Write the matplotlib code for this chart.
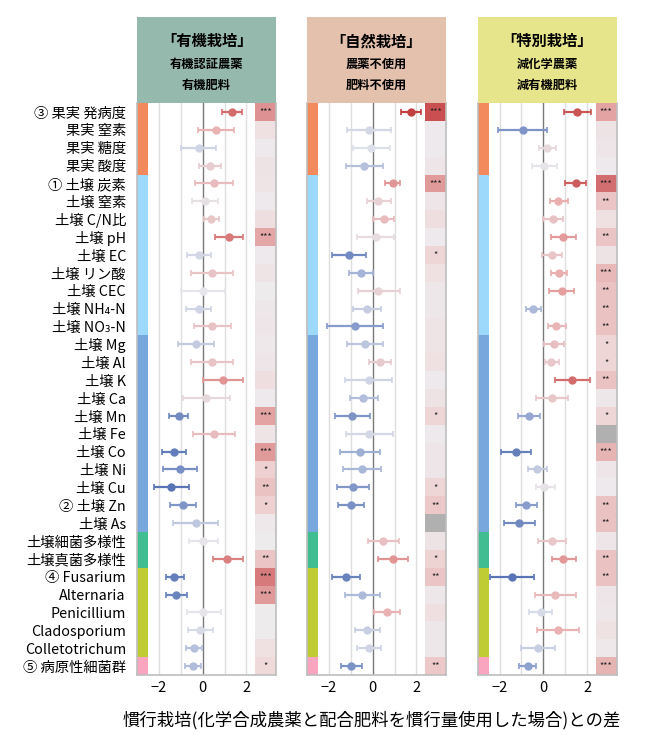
import numpy as np
import matplotlib
matplotlib.use("Agg")
import matplotlib.pyplot as plt
from matplotlib.colors import LinearSegmentedColormap, Normalize
from matplotlib.patches import Rectangle

plt.rcParams['font.family'] = ['Noto Sans CJK JP', 'DejaVu Sans']

# ---------------------------------------------
# data
# ---------------------------------------------

row_labels = [
    "③ 果実 発病度", "果実 窒素", "果実 糖度", "果実 酸度",
    "① 土壌 炭素", "土壌 窒素", "土壌 C/N比", "土壌 pH", "土壌 EC",
    "土壌 リン酸", "土壌 CEC", "土壌 NH₄-N", "土壌 NO₃-N",
    "土壌 Mg", "土壌 Al", "土壌 K", "土壌 Ca", "土壌 Mn", "土壌 Fe",
    "土壌 Co", "土壌 Ni", "土壌 Cu", "② 土壌 Zn", "土壌 As",
    "土壌細菌多様性", "土壌真菌多様性",
    "④ Fusarium", "Alternaria", "Penicillium", "Cladosporium",
    "Colletotrichum", "⑤ 病原性細菌群",
]

group_sizes = [4, 9, 11, 2, 5, 1]
group_colors = ["#f28a5e", "#9dd9fa", "#77a7dc", "#40bd91", "#c0cc33", "#f9a5c0"]

panel_titles = ["「有機栽培」", "「自然栽培」", "「特別栽培」"]
panel_sub1 = ["有機認証農薬", "農薬不使用", "減化学農薬"]
panel_sub2 = ["有機肥料", "肥料不使用", "減有機肥料"]
panel_colors = ["#96b9ae", "#e3c1ad", "#e7e58b"]

# panel 1: 有機栽培
est1 = [1.33, 0.63, -0.18, 0.32, 0.52, 0.09, 0.38, 1.20, -0.15, 0.41, 0.00, -0.18, 0.44,
        -0.29, 0.41, 0.95, 0.17, -1.10, 0.52, -1.31, -1.04, -1.44, -0.92, -0.32,
        0.02, 1.13, -1.30, -1.20, 0.03, -0.12, -0.40, -0.44]
lo1 = [0.89, -0.20, -1.00, -0.17, -0.34, -0.49, 0.05, 0.58, -0.72, -0.53, -1.00, -0.75, -0.40,
       -1.11, -0.53, 0.00, -0.90, -1.53, -0.43, -1.85, -1.83, -2.21, -1.51, -1.34,
       -0.61, 0.46, -1.68, -1.68, -0.72, -0.67, -0.75, -0.81]
hi1 = [1.80, 1.44, 0.63, 0.84, 1.40, 0.70, 0.76, 1.85, 0.40, 1.39, 1.04, 0.38, 1.28,
       0.52, 1.39, 1.85, 1.24, -0.69, 1.47, -0.76, -0.24, -0.63, -0.31, 0.69,
       0.70, 1.85, -0.85, -0.73, 0.84, 0.47, -0.03, -0.09]
heat1 = [4.0, 1.0, 0.3, 0.8, 0.7, 0.3, 1.2, 3.5, 0.3, 0.7, 0.2, 0.5, 0.6,
         0.4, 0.6, 1.2, 0.3, 3.6, 0.7, 3.8, 2.0, 2.5, 2.0, 0.4,
         0.2, 2.4, 4.5, 3.8, 0.2, 0.2, 1.0, 1.6]
star1 = ["***", "", "", "", "", "", "", "***", "", "", "", "", "",
         "", "", "", "", "***", "", "***", "*", "**", "*", "",
         "", "**", "***", "***", "", "", "", "*"]

# panel 2: 自然栽培
est2 = [1.76, -0.15, -0.08, -0.40, 0.92, 0.26, 0.52, 0.14, -1.10, -0.53, 0.26, -0.26, -0.81,
        -0.34, 0.34, -0.18, -0.43, -0.93, -0.15, -0.58, -0.49, -0.90, -0.99, np.nan,
        0.47, 0.95, -1.22, -0.47, 0.64, -0.24, -0.17, -0.98]
lo2 = [1.30, -1.15, -0.90, -1.24, 0.58, -0.26, 0.03, -0.73, -1.88, -1.08, -0.69, -0.89, -2.09,
       -1.15, -0.15, -1.27, -1.02, -1.73, -1.22, -1.48, -1.36, -1.63, -1.59, np.nan,
       -0.21, 0.24, -1.88, -1.27, 0.05, -0.81, -0.73, -1.45]
hi2 = [2.20, 0.85, 0.78, 0.46, 1.27, 0.82, 0.99, 0.99, -0.32, 0.02, 1.24, 0.37, 0.47,
       0.47, 0.82, 0.87, 0.23, -0.14, 0.95, 0.32, 0.38, -0.15, -0.41, np.nan,
       1.19, 1.62, -0.56, 0.32, 1.24, 0.32, 0.40, -0.47]
heat2 = [5.5, 0.3, 0.3, 0.6, 3.8, 0.6, 1.2, 0.3, 1.8, 1.0, 0.5, 0.5, 0.7,
         0.7, 1.0, 0.3, 0.8, 1.8, 0.3, 0.6, 0.6, 1.8, 2.3, np.nan,
         0.8, 1.9, 2.4, 0.5, 1.1, 0.5, 0.5, 2.3]
star2 = ["***", "", "", "", "***", "", "", "", "*", "", "", "", "",
         "", "", "", "", "*", "", "", "", "*", "**", "",
         "", "*", "**", "", "", "", "", "**"]

# panel 3: 特別栽培
est3 = [1.56, -0.93, 0.17, 0.03, 1.47, 0.69, 0.43, 0.89, 0.40, 0.70, 0.84, -0.47, 0.60,
        0.47, 0.37, 1.33, 0.38, -0.66, np.nan, -1.26, -0.29, 0.05, -0.80, -1.12,
        0.38, 0.90, -1.44, 0.55, -0.12, 0.66, -0.25, -0.72]
lo3 = [0.96, -2.05, -0.20, -0.52, 1.00, 0.29, -0.02, 0.34, -0.06, 0.35, 0.28, -0.81, 0.21,
       0.05, 0.06, 0.55, -0.34, -1.16, np.nan, -1.93, -0.72, -0.35, -1.26, -1.81,
       -0.26, 0.38, -2.43, -0.38, -0.66, -0.30, -1.03, -1.09]
hi3 = [2.17, 0.15, 0.58, 0.64, 1.96, 1.12, 0.89, 1.47, 0.86, 1.06, 1.42, -0.12, 1.03,
       0.93, 0.72, 2.14, 1.13, -0.14, np.nan, -0.58, 0.17, 0.52, -0.29, -0.40,
       1.03, 1.47, -0.44, 1.49, 0.38, 1.64, 0.55, -0.34]
heat3 = [3.6, 0.8, 0.6, 0.3, 4.8, 2.4, 1.0, 2.4, 0.8, 2.9, 2.5, 2.5, 2.5,
         1.8, 1.8, 2.5, 0.5, 1.8, np.nan, 3.0, 0.6, 0.3, 2.5, 2.5,
         0.6, 2.5, 2.5, 0.6, 0.5, 0.9, 0.4, 3.0]
star3 = ["***", "", "", "", "***", "**", "", "**", "", "***", "**", "**", "**",
         "*", "*", "**", "", "*", "", "***", "", "", "**", "**",
         "", "**", "**", "", "", "", "", "***"]

panels = [
    (est1, lo1, hi1, heat1, star1),
    (est2, lo2, hi2, heat2, star2),
    (est3, lo3, hi3, heat3, star3),
]

# ---------------------------------------------
# colours
# ---------------------------------------------

point_cmap = LinearSegmentedColormap.from_list(
    "pt", [(0, "#3f5fa8"), (0.3, "#8ea2cf"), (0.5, "#e6e6ec"), (0.7, "#e9acac"), (1, "#c23b3b")])
point_norm = Normalize(-1.8, 1.8)

heat_cmap = LinearSegmentedColormap.from_list(
    "ht", [(0, "#eeedf0"), (0.3, "#efd6d6"), (0.6, "#e3a3a3"), (1, "#c3393c")])
heat_norm = Normalize(0, 6)

# ---------------------------------------------
# figure
# ---------------------------------------------

fig = plt.figure(figsize=(6.5, 7.48), dpi=100)

panel_left = [0.2108, 0.4723, 0.7349]
panel_w = 0.2138
ax_bottom = 1 - 675 / 748
ax_top = 1 - 103 / 748
head_top = 1 - 17 / 748

n = len(row_labels)
y = np.arange(n)

for k, (est, lo, hi, heat, star) in enumerate(panels):
    ax = fig.add_axes([panel_left[k], ax_bottom, panel_w, ax_top - ax_bottom])
    ax.set_xlim(-3.0, 3.35)
    ax.set_ylim(n - 0.5, -0.5)

    # grid
    for gx in [-2, -1, 1, 2]:
        ax.axvline(gx, color="#dedede", lw=1, zorder=0)
    ax.axvline(0, color="#7a7a7a", lw=1, zorder=1)

    # group colour strip
    start = 0
    for size, col in zip(group_sizes, group_colors):
        ax.add_patch(Rectangle((-3.0, start - 0.5), 0.5, size, color=col, lw=0, zorder=2))
        start += size

    # heat column
    for i in range(n):
        if np.isnan(heat[i]):
            col = "#b0b0b0"
        else:
            col = heat_cmap(heat_norm(heat[i]))
        ax.add_patch(Rectangle((2.4, i - 0.5), 0.95, 1, color=col, lw=0, zorder=2))
        if star[i]:
            ax.text(2.87, i, star[i], ha="center", va="center", fontsize=6.5,
                    color="#222222", zorder=3)

    # estimates with intervals
    for i in range(n):
        if np.isnan(est[i]):
            continue
        c = point_cmap(point_norm(est[i]))
        ax.errorbar(est[i], i, xerr=[[est[i] - lo[i]], [hi[i] - est[i]]],
                    fmt="o", color=c, ms=5, elinewidth=1.6, capsize=2,
                    capthick=1.2, zorder=4)

    ax.set_xticks([-2, 0, 2])
    ax.set_xticklabels(["−2", "0", "2"], fontsize=10.5)
    ax.tick_params(axis="x", length=0, pad=4)
    ax.set_yticks([])
    for side in ["left", "right", "bottom"]:
        ax.spines[side].set_color("#bdbdbd")
        ax.spines[side].set_linewidth(1.2)
    ax.spines["top"].set_visible(False)

    if k == 0:
        ax.set_yticks(y)
        ax.set_yticklabels(row_labels, fontsize=10.3)
        ax.tick_params(axis="y", length=0, pad=8)

    # header box
    hx = fig.add_axes([panel_left[k], ax_top, panel_w, head_top - ax_top])
    hx.set_facecolor(panel_colors[k])
    hx.set_xticks([])
    hx.set_yticks([])
    for s in hx.spines.values():
        s.set_visible(False)
    hx.text(0.5, 0.72, panel_titles[k], ha="center", va="center",
            fontsize=11, fontweight="bold", transform=hx.transAxes)
    hx.text(0.5, 0.45, panel_sub1[k], ha="center", va="center",
            fontsize=8.8, fontweight="bold", transform=hx.transAxes)
    hx.text(0.5, 0.21, panel_sub2[k], ha="center", va="center",
            fontsize=8.8, fontweight="bold", transform=hx.transAxes)

fig.text(0.572, 1 - 720 / 748, "慣行栽培(化学合成農薬と配合肥料を慣行量使用した場合)との差",
         ha="center", va="center", fontsize=12.5)

fig.savefig("out.png", dpi=100)
